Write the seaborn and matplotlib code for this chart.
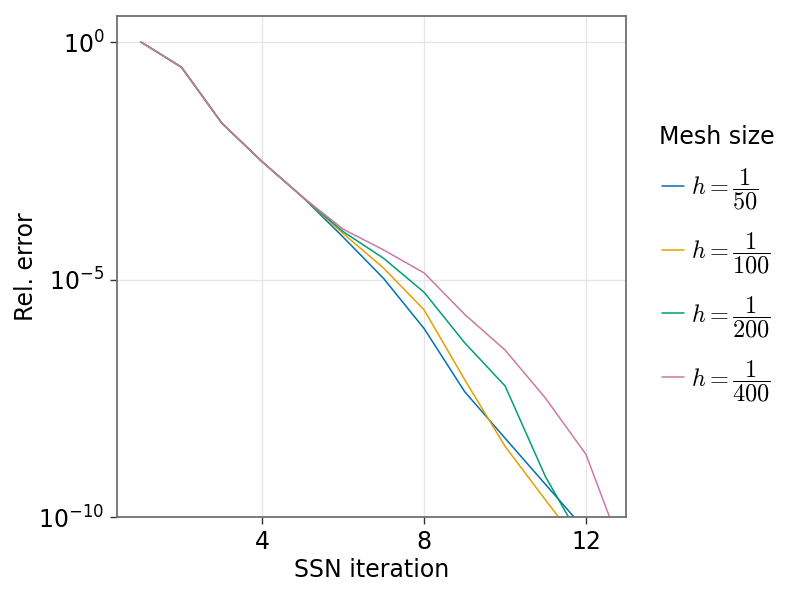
import numpy as np
import pandas as pd
import seaborn as sns
import matplotlib
matplotlib.use("Agg")
import matplotlib.pyplot as plt
from matplotlib.ticker import FixedLocator, NullLocator

# (relative error per SSN iteration)
iters = [1, 2, 3, 4, 5, 6, 7, 8, 9, 10, 11, 12, 13]
err_h50 = [1.0, 0.295, 0.0195, 3.0e-3, 5.4e-4, 7.8e-5, 1.05e-5, 9.3e-7, 4.4e-8, 4.6e-9, 4.9e-10, 5.2e-11]
err_h100 = [1.0, 0.295, 0.0195, 3.0e-3, 5.4e-4, 9.3e-5, 1.74e-5, 2.3e-6, 7.9e-8, 3.1e-9, 2.3e-10, 1.8e-11]
err_h200 = [1.0, 0.295, 0.0195, 3.0e-3, 5.4e-4, 1.02e-4, 2.8e-5, 5.4e-6, 4.7e-7, 5.8e-8, 7.1e-10, 2.3e-11]
err_h400 = [1.0, 0.295, 0.0195, 3.0e-3, 5.4e-4, 1.15e-4, 4.2e-5, 1.38e-5, 1.86e-6, 3.3e-7, 3.2e-8, 2.1e-9, 1.15e-11]
labels = [r"$h = \dfrac{1}{50}$", r"$h = \dfrac{1}{100}$",
          r"$h = \dfrac{1}{200}$", r"$h = \dfrac{1}{400}$"]
colors = ["#0072B2", "#E69F00", "#009E73", "#CC79A7"]

rows = []
for lab, ys in zip(labels, [err_h50, err_h100, err_h200, err_h400]):
    for x, y in zip(iters, ys):
        rows.append((x, y, lab))
df = pd.DataFrame(rows, columns=["iter", "err", "mesh"])

sns.set_style("white")
plt.rcParams["font.family"] = ["DejaVu Sans"]
plt.rcParams["mathtext.fontset"] = "cm"
plt.rcParams["text.color"] = "black"
plt.rcParams["axes.labelcolor"] = "black"
plt.rcParams["xtick.color"] = "black"
plt.rcParams["ytick.color"] = "black"

fig = plt.figure(figsize=(8, 6), dpi=100)
ax = fig.add_axes([0.146, 0.138, 0.637, 0.835])

sns.lineplot(data=df, x="iter", y="err", hue="mesh", palette=colors,
             hue_order=labels, linewidth=1.1, ax=ax, sort=False)
ax.set_yscale("log")
ax.set_xlim(0.4, 13.0)
ax.set_ylim(1e-10, 3.5)
ax.xaxis.set_major_locator(FixedLocator([4, 8, 12]))
ax.yaxis.set_major_locator(FixedLocator([1, 1e-5, 1e-10]))
ax.yaxis.set_minor_locator(NullLocator())
ax.set_yticklabels([r"$\mathregular{10^{0}}$", r"$\mathregular{10^{-5}}$", r"$\mathregular{10^{-10}}$"])
ax.grid(True, color="#e6e6e6", linewidth=1)
for s in ax.spines.values():
    s.set_color("#707070")
    s.set_linewidth(1.3)
ax.tick_params(axis="both", which="major", direction="out", length=5, width=1,
               color="#333333", labelsize=17, pad=4, left=True, bottom=True)
ax.set_xlabel("SSN iteration", fontsize=17, labelpad=3)
ax.set_ylabel("Rel. error", fontsize=17)
ax.yaxis.set_label_coords(-0.155, 0.5)

leg = ax.legend(title="Mesh size", loc="center left", bbox_to_anchor=(1.04, 0.505),
                frameon=False, fontsize=17.5, title_fontsize=17, handlelength=0.9,
                handletextpad=0.3, labelspacing=0.75, borderpad=0)
for line in leg.get_lines():
    line.set_linewidth(1.1)

fig.savefig("out.png", dpi=100)
